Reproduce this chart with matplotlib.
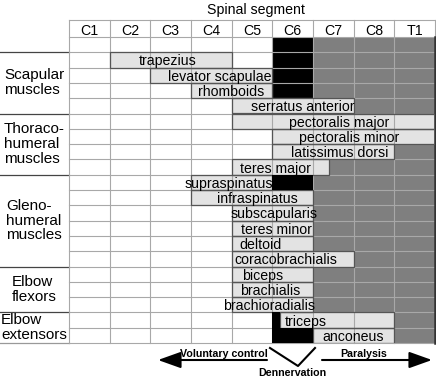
import matplotlib
matplotlib.use('Agg')
import matplotlib.pyplot as plt
from matplotlib.patches import Rectangle
from matplotlib.lines import Line2D

plt.rcParams['font.family'] = ['Liberation Sans', 'DejaVu Sans']

# ---------------- data ----------------
segments = ['C1', 'C2', 'C3', 'C4', 'C5', 'C6', 'C7', 'C8', 'T1']
muscles = ['trapezius', 'levator scapulae', 'rhomboids', 'serratus anterior',
           'pectoralis major', 'pectoralis minor', 'latissimus dorsi', 'teres major',
           'supraspinatus', 'infraspinatus', 'subscapularis', 'teres minor', 'deltoid',
           'coracobrachialis', 'biceps', 'brachialis', 'brachioradialis',
           'triceps', 'anconeus']
# innervation span, in segment units (C1 starts at 0, T1 ends at 9)
bar_start = [1, 2, 3, 4, 4, 5, 5, 4, 3, 3, 4, 4, 4, 4, 4, 4, 4, 5.2, 6]
bar_end = [4, 5, 5, 7, 9, 9, 8, 6.4, 5, 6, 6, 6, 6, 7, 6, 6, 6, 8, 8]
groups = ['Scapular\nmuscles', 'Thoraco-\nhumeral\nmuscles', 'Gleno-\nhumeral\nmuscles',
          'Elbow\nflexors', 'Elbow\nextensors']
group_sizes = [4, 4, 6, 3, 2]
denervated_segment = 'C6'
denervated_rows_top = 4          # blank row + first three muscles
paralysed_segments = ['C7', 'C8', 'T1']
denerv_muscle = ['supraspinatus', 'triceps', 'anconeus']
denerv_start = [5, 5, 5]
denerv_end = [6, 5.2, 6]

# ---------------- layout ----------------
label_center = [2.43, 3.71, 3.98, 5.75, 6.64, 6.89, 6.66, 5.07, 3.93, 4.62, 5.04,
                5.11, 4.72, 5.32, 4.75, 4.94, 4.92, 5.83, 6.98]
W, H = 436, 380
fig = plt.figure(figsize=(W / 100, H / 100), dpi=100)
x0, x1, ytop, ybot = 69, 435, 20, 343
nrows = len(muscles) + 1
rowh = 15.3
hdr = (37 - ytop) / rowh
colw = (x1 - x0) / len(segments)
ax = fig.add_axes([x0 / W, 1 - ybot / H, (x1 - x0) / W, (ybot - ytop) / H])
ax.set_xlim(0, len(segments))
ax.set_ylim(nrows, -hdr)
ax.axis('off')

FS = 10.2
FSG = 11
grid_c = '#a8a8a8'
gray_c = '#7f7f7f'
bar_c = '#e3e3e3'
edge_c = '#555555'

# paralysed region
p0 = segments.index(paralysed_segments[0])
ax.add_patch(Rectangle((p0, 0), len(paralysed_segments), nrows, facecolor=gray_c,
                       edgecolor='none', zorder=1))
# denervated column block
d0 = segments.index(denervated_segment)
ax.add_patch(Rectangle((d0, 0), 1, denervated_rows_top, facecolor='black',
                       edgecolor='none', zorder=1))

# bars
for i, (m, s, e) in enumerate(zip(muscles, bar_start, bar_end)):
    r = i + 1
    ax.add_patch(Rectangle((s, r), e - s, 1, facecolor=bar_c, edgecolor='none', zorder=3))
    ax.add_patch(Rectangle((s, r), e - s, 1, facecolor='none', edgecolor=edge_c,
                           lw=0.9, zorder=3.4))
    ax.text(label_center[i], r + 0.86, m, ha='center', va='baseline', fontsize=FS,
            zorder=5)
for m, s, e in zip(denerv_muscle, denerv_start, denerv_end):
    r = muscles.index(m) + 1
    ax.add_patch(Rectangle((s, r), e - s, 1, facecolor='black', edgecolor='none',
                           zorder=3.5))

# grid
for k in range(len(segments) + 1):
    ax.plot([k, k], [-hdr, nrows], color=grid_c, lw=0.8, zorder=3.2, clip_on=False)
ax.plot([0, len(segments)], [-hdr, -hdr], color=grid_c, lw=0.8, zorder=3.2, clip_on=False)
for r in range(nrows + 1):
    ax.plot([0, len(segments)], [r, r], color=grid_c, lw=0.8, zorder=3.2, clip_on=False)
ax.plot([len(segments)] * 2, [0, nrows], color='#333333', lw=1.8, zorder=3.3,
        clip_on=False)

# header
for k, s in enumerate(segments):
    ax.text(k + 0.5, -0.13, s, ha='center', va='baseline', fontsize=FS)
ax.text(4.6, -1.5, 'Spinal segment', ha='center', va='baseline', fontsize=FS)

# group labels on the left
xl = (0 - x0) / colw
r = 1
for g, n in zip(groups, group_sizes):
    ax.plot([xl, 0], [r, r], color='#444444', lw=0.9, clip_on=False)
    ax.text((34 - x0) / colw, r + n / 2, g, ha='center',
            va='center', multialignment='left', fontsize=FSG, linespacing=1.08)
    r += n
ax.plot([xl, 0], [r, r], color='#999999', lw=0.9, clip_on=False)

# bottom annotations (figure pixel positions)
def fx(px):
    return px / W

def fy(py):
    return 1 - py / H

arrow = dict(arrowstyle='-|>,head_length=1.4,head_width=0.5', mutation_scale=10,
             lw=1.5, color='black', shrinkA=0, shrinkB=0)
fig.add_artist(matplotlib.patches.FancyArrowPatch((fx(267), fy(360)), (fx(158), fy(360)),
                                                  transform=fig.transFigure, **arrow))
fig.add_artist(matplotlib.patches.FancyArrowPatch((fx(322), fy(360)), (fx(432), fy(360)),
                                                  transform=fig.transFigure, **arrow))
fig.add_artist(Line2D([fx(270), fx(298), fx(315)], [fy(348), fy(366), fy(348)],
                      transform=fig.transFigure, color='black', lw=1.5))
fig.text(fx(224), fy(357), 'Voluntary control', ha='center', va='baseline',
         fontsize=7.7, fontweight='bold')
fig.text(fx(364), fy(357), 'Paralysis', ha='center', va='baseline',
         fontsize=7.7, fontweight='bold')
fig.text(fx(292), fy(376), 'Dennervation', ha='center', va='baseline',
         fontsize=7.7, fontweight='bold')

fig.savefig('out.png', dpi=100)
